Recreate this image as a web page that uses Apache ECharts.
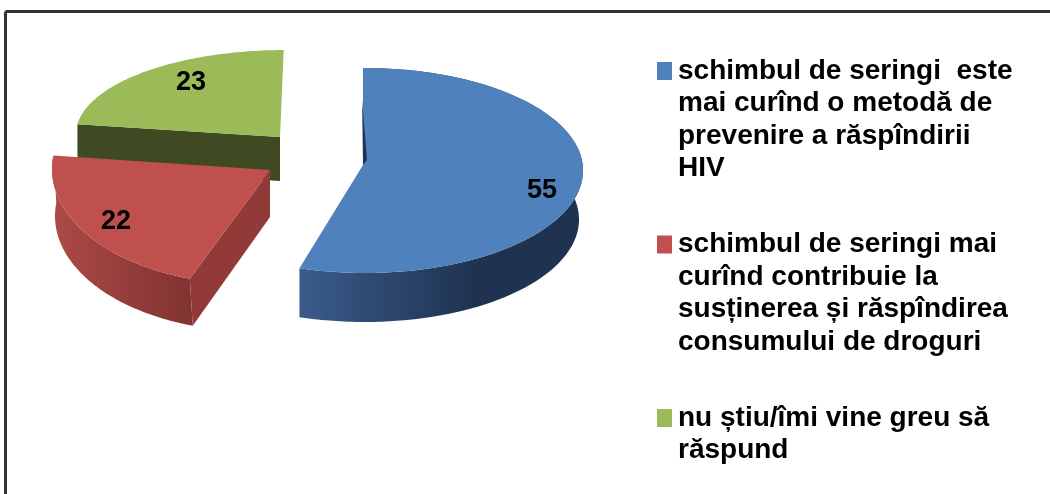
<!DOCTYPE html>
<html>
<head>
<meta charset="utf-8">
<style>html,body{margin:0;padding:0;background:#fff}#c{width:1050px;height:494px}</style>
<script src="https://cdn.jsdelivr.net/npm/echarts@6/dist/echarts.min.js"></script>
</head>
<body>
<div id="c"></div>
<script>
const categories = [
  "schimbul de seringi  este\nmai curînd o metodă de\nprevenire a răspîndirii\nHIV",
  "schimbul de seringi mai\ncurînd contribuie la\nsusținerea și răspîndirea\nconsumului de droguri",
  "nu știu/îmi vine greu să\nrăspund"
];
const values = [55, 22, 23];
const colors = ["#4f81bd", "#c0504d", "#9bbb59"];
const faceColors = ["#1f3350", "#913a38", "#404a22"];
const sideStops = [
  [[0, "#3a5b8a"], [0.62, "#1f3350"], [1, "#1f3350"]],
  [[0, "#ad4a47"], [1, "#7f3331"]],
  null
];

// Projection of each exploded slice: rim ellipse, apex, extrusion depth, label anchor
const startAngle = -0.5;
const slices = [
  {cx: 365, cy: 170.5, rx: 218, ry: 102.5, apex: [363, 165], depth: 49, skew: 0, taper: 4, label: [542, 191]},
  {cx: 249, cy: 169, rx: 197, ry: 115,     apex: [270, 170], depth: 47, skew: 3, taper: 0, label: [116, 222]},
  {cx: 285.5, cy: 134, rx: 209.5, ry: 84,  apex: [280, 137], depth: 44, skew: 0, taper: 0, label: [191, 83]}
];
const drawOrder = [2, 1, 0];

const total = values.reduce((a, b) => a + b, 0);
function angles(idx) {
  let a = startAngle;
  for (let i = 0; i < idx; i++) a += values[i] / total * 360;
  return [a, a + values[idx] / total * 360];
}
function rimPoint(s, deg) {
  const t = deg * Math.PI / 180;
  return [s.cx + s.rx * Math.sin(t), s.cy - s.ry * Math.cos(t)];
}
function renderSlice(params, api) {
  const idx = api.value(0);
  const s = slices[idx];
  const [a0, a1] = angles(idx);
  const rim = [];
  for (let d = a0; d < a1; d += 1) rim.push(rimPoint(s, d));
  rim.push(rimPoint(s, a1));
  const dropRim = p => {
    const dx = p[0] - s.cx;
    return [p[0] + s.skew - (dx > 0 ? s.taper * dx / s.rx : 0), p[1] + s.depth];
  };
  const dropApex = p => [p[0], p[1] + s.depth];
  const children = [];
  if (sideStops[idx]) {
    children.push({
      type: 'polygon',
      shape: {points: rim.concat(rim.slice().reverse().map(dropRim))},
      style: {fill: new echarts.graphic.LinearGradient(0, 0, 1, 0,
        sideStops[idx].map(st => ({offset: st[0], color: st[1]})))}
    });
  }
  const first = rim[0];
  if (idx !== 0) {
    children.push({
      type: 'polygon',
      shape: {points: [s.apex, first, dropRim(first), dropApex(s.apex)]},
      style: {fill: faceColors[idx]}
    });
  }
  children.push({
    type: 'polygon',
    shape: {points: rim.concat([s.apex])},
    style: {fill: colors[idx]}
  });
  if (idx === 0) {
    children.push({
      type: 'polygon',
      shape: {points: [[first[0] - 1, first[1] + 32], [s.apex[0] + 4, s.apex[1] - 5], s.apex]},
      style: {fill: faceColors[idx]}
    });
  }
  children.push({
    type: 'text',
    style: {
      x: s.label[0], y: s.label[1], text: String(values[idx]),
      fill: '#000', font: 'bold 27px "Liberation Sans", Arial, sans-serif',
      align: 'center', verticalAlign: 'middle'
    }
  });
  return {type: 'group', children};
}

const rich = {
  t: {fontFamily: '"Liberation Sans", Arial, sans-serif', fontWeight: 'bold', fontSize: 28, color: '#000', lineHeight: 32.5},
  p: {width: 21, height: 15}
};
colors.forEach((c, i) => { rich['m' + i] = {width: 15, height: 15, backgroundColor: c, padding: [0, 0, 3, 0]}; rich['g' + i] = {width: 6, height: 15}; });

const chart = echarts.init(document.getElementById('c'), null, {renderer: 'canvas'});
chart.setOption({
  animation: false,
  backgroundColor: '#ffffff',
  graphic: [
    {type: 'line', shape: {x1: 5.5, y1: 11.5, x2: 1050, y2: 11.5}, style: {stroke: '#333', lineWidth: 3}},
    {type: 'line', shape: {x1: 5.5, y1: 11.5, x2: 5.5, y2: 494}, style: {stroke: '#333', lineWidth: 3}}
  ],
  legend: {
    orient: 'vertical',
    left: 652, top: 57,
    padding: 0,
    itemWidth: 0, itemHeight: 0, itemGap: 48,
    icon: 'rect',
    selectedMode: false,
    data: categories,
    textStyle: {rich},
    formatter: name => {
      const i = categories.indexOf(name);
      return name.split('\n').map((l, k) =>
        k === 0 ? `{m${i}|}{g${i}|}{t|${l}}` : `{p|}{t|${l}}`).join('\n');
    }
  },
  series: drawOrder.map(i => ({
    type: 'custom',
    name: categories[i],
    coordinateSystem: 'none',
    renderItem: renderSlice,
    clip: false,
    itemStyle: {color: colors[i]},
    data: [[i, values[i]]]
  }))
});
</script>
</body>
</html>
